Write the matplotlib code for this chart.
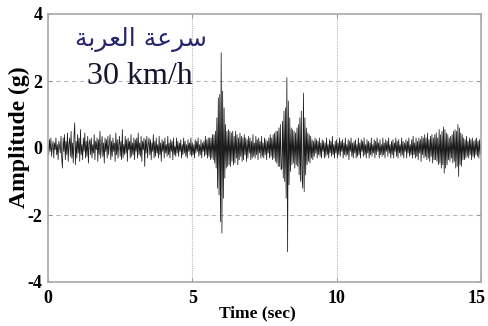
import numpy as np
import matplotlib
matplotlib.use("Agg")
import matplotlib.pyplot as plt
from matplotlib.transforms import ScaledTranslation

# ---- data (acceleration samples, g) ----
seg_quiet_start = [
    0.1,-0.2,0.25,-0.1,0.3,-0.25,0.05,0.2,-0.3,0.15,-0.05,0.3,-0.2,0.1,-0.35,0.2,0.05,-0.15,0.35,-0.3,
    -0.6,0.3,-0.1,0.4,-0.35,0.2,-0.2,0.45,-0.4,0.1,0.3,-0.25,0.5,-0.3,0.15,-0.45,0.35,0.75,-0.5,0.2,
    -0.3,0.4,-0.15,0.3,-0.4,0.55,-0.2,0.1,-0.35,0.3,-0.1,0.45,-0.3,0.2,-0.25,0.35,-0.45,0.15,0.25,-0.2,
    0.3,-0.3,0.1,-0.15,0.4,-0.35,0.2,-0.05,0.3,-0.4,0.25,-0.2,0.5,-0.3,0.05,0.35,-0.25,0.15,-0.45,0.3,
    -0.1,0.25,-0.3,0.35,-0.2,0.1,0.4,-0.35,0.2,-0.25,0.3,-0.1,0.15,-0.4,0.45,-0.2,0.25,-0.3,0.1,0.35,
    -0.25,0.2,-0.35,0.55,-0.3,0.1,-0.2,0.35,-0.15,0.25,-0.4,0.3,-0.05,0.2,-0.3,0.4,-0.25,0.15,-0.2,0.3,
    -0.35,0.25,-0.1,0.3,-0.3,0.45,-0.2,0.15,-0.25,0.35,-0.4,0.2,-0.05,0.3,-0.55,0.25,-0.15,0.35,-0.3,0.1,
    0.3,-0.2,0.25,-0.35,0.15,-0.1,0.4,-0.3,0.2,-0.25,0.3,-0.15,0.1,-0.3,0.35,-0.2,0.15,-0.4,0.25,-0.1,
    0.2,-0.3,0.3,-0.15,0.1,-0.25,0.35,-0.2,0.15,-0.3,0.25,-0.1,0.2,-0.35,0.3,-0.2,0.05,-0.25,0.3,-0.15,
    0.2,-0.25,0.15,-0.1,0.25,-0.3,0.1,-0.2,0.3,-0.15,0.2,-0.25,0.1,-0.3,0.25,-0.1,0.15,-0.2,0.3,-0.25,
    0.15,-0.2,0.1,-0.3,0.25,-0.15,0.2,-0.1,0.3,-0.25,0.1,-0.2,0.25,-0.3,0.15,-0.1,0.2,-0.25,0.35,-0.2,
    0.25,-0.3,0.3,-0.25,0.3,-0.35,0.3,-0.3,0.4,-0.35,0.4,-0.45,
]
seg_first_hit = [0.5,-0.6,0.9,-1.2,1.5,-1.4,1.6,-2.2,2.84,-2.54,1.7,-1.5,1.2,-0.9,0.7,-0.6,0.5,-0.55]
seg_between = [
    0.55,-0.5,0.5,-0.55,0.45,-0.4,0.5,-0.5,0.35,-0.45,0.5,-0.3,0.4,-0.5,0.3,-0.35,0.45,-0.25,0.35,-0.4,
    0.3,-0.35,0.4,-0.2,0.3,-0.4,0.25,-0.3,0.35,-0.15,0.3,-0.35,0.2,-0.3,0.4,-0.25,0.15,-0.3,0.35,-0.2,
    0.25,-0.35,0.3,-0.15,0.2,-0.3,0.35,-0.25,0.15,-0.3,0.3,-0.2,0.25,-0.35,0.2,-0.15,0.3,-0.3,0.4,-0.25,
    0.3,-0.35,0.4,-0.3,0.45,-0.4,0.5,-0.45,0.5,-0.55,0.6,-0.55,0.7,-0.65,
]
seg_second_hits = [
    -0.6,0.8,-0.9,1.1,-1.0,1.2,-1.5,2.1,-3.1,1.4,
    -1.1,0.9,-0.7,0.6,-0.5,0.55,-0.45,0.5,-0.6,0.45,
    -0.5,0.6,-0.55,0.7,-0.8,0.9,-1.0,1.1,-0.9,-1.2,
    1.64,-1.3,0.9,-0.8,0.6,-0.5,0.45,-0.4,0.4,-0.45,
]
seg_quiet_end = [
    0.35,-0.3,0.25,-0.35,0.2,-0.25,0.3,-0.15,0.25,-0.3,0.2,-0.2,0.3,-0.25,0.15,-0.3,0.25,-0.1,0.2,-0.3,
    0.15,-0.25,0.3,-0.2,0.1,-0.3,0.25,-0.15,0.2,-0.25,0.35,-0.2,0.1,-0.3,0.2,-0.15,0.25,-0.3,0.15,-0.2,
    0.3,-0.25,0.2,-0.1,0.25,-0.3,0.15,-0.2,0.3,-0.25,0.1,-0.2,0.25,-0.35,0.2,-0.1,0.3,-0.25,0.15,-0.3,
    0.2,-0.15,0.25,-0.3,0.1,-0.25,0.3,-0.2,0.15,-0.3,0.25,-0.1,0.2,-0.25,0.3,-0.2,0.1,-0.3,0.25,-0.15,
    0.2,-0.3,0.15,-0.2,0.3,-0.25,0.1,-0.15,0.25,-0.3,0.2,-0.2,0.3,-0.1,0.15,-0.3,0.25,-0.2,0.1,-0.25,
    0.3,-0.2,0.15,-0.3,0.25,-0.1,0.2,-0.25,0.3,-0.15,0.1,-0.3,0.2,-0.2,0.25,-0.3,0.15,-0.1,0.3,-0.25,
    0.2,-0.3,0.25,-0.15,0.1,-0.25,0.3,-0.2,0.2,-0.3,0.15,-0.1,0.25,-0.3,0.2,-0.15,0.3,-0.25,0.1,-0.2,
    0.25,-0.3,0.35,-0.2,0.15,-0.3,0.3,-0.25,0.2,-0.35,0.3,-0.15,0.25,-0.4,0.35,-0.2,0.3,-0.3,0.4,-0.25,
    0.3,-0.35,0.45,-0.3,0.25,-0.4,0.35,-0.25,0.4,-0.45,0.3,-0.35,
]
seg_tail = [
    0.4,-0.35,0.45,-0.4,0.3,-0.5,0.55,-0.45,0.4,-0.6,0.5,-0.5,0.63,-0.75,0.55,-0.6,0.45,-0.5,0.4,-0.35,
    0.3,-0.4,0.35,-0.3,0.4,-0.45,0.5,-0.4,0.55,-0.6,0.5,-0.55,0.7,-0.85,0.6,-0.5,0.45,-0.55,0.4,-0.35,
    0.3,-0.35,0.25,-0.3,0.35,-0.25,0.2,-0.3,0.3,-0.2,0.25,-0.35,0.3,-0.25,0.2,-0.3,0.25,-0.2,0.3,-0.25,
    0.2,-0.3,0.25,-0.2,0.15,
]
amplitude = np.array(seg_quiet_start + seg_first_hit + seg_between +
                     seg_second_hits + seg_quiet_end + seg_tail)
t_start, t_end = 0.0, 15.0
time = np.linspace(t_start, t_end, len(amplitude))

x_ticks = [0, 5, 10, 15]
y_ticks = [-4, -2, 0, 2, 4]
arabic_title = "\uFE94\uFE91\uFEAE\uFECC\uFEDF\uFE8D \uFE94\uFECB\uFEAE\uFEB3"  # سرعة العربة (shaped, visual order)
speed_label = "30 km/h"

# ---- figure ----
fig = plt.figure(figsize=(4.88, 3.26), dpi=100)
ax = fig.add_axes([48/488, 1-282/326, 433/488, 268/326])

ax.plot(time, amplitude, color="#1c1c1c", lw=0.55)
ax.set_xlim(0, 15)
ax.set_ylim(-4, 4)
ax.set_xticks(x_ticks)
ax.set_yticks(y_ticks)

serif = ["Liberation Serif", "DejaVu Serif"]
ax.set_xticklabels([str(v) for v in x_ticks], family=serif, weight="bold", fontsize=13)
ax.set_yticklabels([str(v) for v in y_ticks], family=serif, weight="bold", fontsize=13)
ax.tick_params(direction="in", top=True, right=True, length=3, width=0.6,
               color="#888888", pad=4)
ax.tick_params(axis="x", pad=6)
last = ax.get_xticklabels()[-1]
last.set_transform(last.get_transform() + ScaledTranslation(-4/100, 0, fig.dpi_scale_trans))

for v in [5, 10]:
    ax.axvline(v, color="#b8b8b8", lw=0.8, ls=(0, (1, 1)), zorder=0)
for v in [-2, 0, 2]:
    ax.axhline(v, color="#b8b8b8", lw=0.8, ls=(0, (4, 3)), zorder=0)

for s in ax.spines.values():
    s.set_color("#a8a8a8")
    s.set_linewidth(1.2)

ax.set_xlabel("Time (sec)", family=serif, weight="bold", fontsize=12.5)
ax.xaxis.set_label_coords((257-48)/433, (282-313)/268)
ax.xaxis.label.set_va("center")
ax.set_ylabel("Amplitude (g)", family=serif, weight="bold", fontsize=17)
ax.yaxis.set_label_coords((19-48)/433, (282-137)/268)
ax.yaxis.label.set_va("center")

ax.text((141-48)/433, (282-40)/268, arabic_title, transform=ax.transAxes,
        ha="center", va="center", fontsize=18, color="#26266e",
        family=["DejaVu Sans"])
ax.text((140-48)/433, (282-76)/268, speed_label, transform=ax.transAxes,
        ha="center", va="center", fontsize=23, color="#141430",
        family=serif)

fig.savefig("out.png", dpi=100)
